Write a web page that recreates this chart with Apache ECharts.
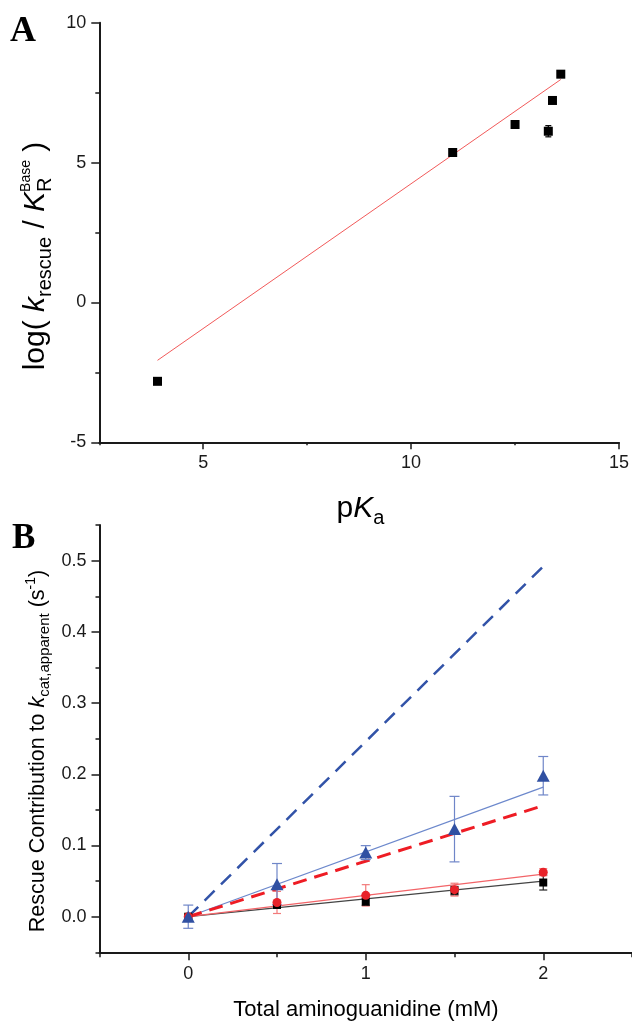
<!DOCTYPE html>
<html><head><meta charset="utf-8">
<script src="https://cdn.jsdelivr.net/npm/echarts@6/dist/echarts.min.js"></script>
<style>html,body{margin:0;padding:0;background:#fff}#c{width:632px;height:1022px}</style>
</head><body><div id="c"></div>
<script>
// ---------- Panel A data ----------
const pKa = [3.9, 11.0, 12.5, 13.3, 13.4, 13.6];
const logRatio = [-2.82, 5.36, 6.36, 6.12, 7.22, 8.16];
const logRatioErr = [0, 0, 0, 0.2, 0, 0];
const fitA_x = [3.9, 13.6];
const fitA_y = [-2.07, 7.97];
const ticksAx = [5, 10, 15];
const ticksAy = [-5, 0, 5, 10];

// ---------- Panel B data ----------
const conc = [0, 0.5, 1, 1.5, 2];
const blackVals = [0, 0.0165, 0.021, 0.0365, 0.048];
const blackErr = [0.003, 0.004, 0.005, 0.006, 0.0105];
const redVals = [0, 0.020, 0.030, 0.038, 0.0625];
const redErr = [0.004, 0.0155, 0.015, 0.009, 0.005];
const blueVals = [0, 0.0457, 0.0900, 0.123, 0.198];
const blueErr = [0.0163, 0.029, 0.0098, 0.046, 0.027];
const fitX = [0, 2];
const fitBlack = [0, 0.0499];
const fitRed = [0, 0.0597];
const fitBlue = [0, 0.182];
const dashBlue = [0, 0.492];
const dashRed = [0, 0.156];
const ticksBx = [0, 1, 2];
const ticksBy = [0, 0.1, 0.2, 0.3, 0.4, 0.5];

const FONT = "'Liberation Sans', Arial, sans-serif";
const AX = '#1a1a1a';

const ctx = document.createElement('canvas').getContext('2d');
function measure(t, size, italic) {
  ctx.font = (italic ? 'italic ' : '') + size + "px 'Liberation Sans', Arial, sans-serif";
  return ctx.measureText(t).width;
}
function mkText(t, x, baseline, size, italic, family, weight) {
  const f = (italic ? 'italic ' : '') + (weight ? weight + ' ' : '') + size + 'px ' + (family || FONT);
  return { type: 'text', x: x, y: baseline - 0.32 * size,
    style: { text: t, font: f, fill: '#000', textAlign: 'left', textVerticalAlign: 'middle', align: 'left', verticalAlign: 'middle' } };
}
// segments laid out along local x, main baseline at local y = 0
function titleGroup(segs, cx, cy, rot) {
  let x = 0, prevX = 0, prevW = 0; const items = [];
  segs.forEach(s => {
    const w = measure(s.t, s.size, s.italic);
    let sx;
    if (s.stack) { sx = prevX; const adv = Math.max(prevW, w); x = prevX + adv; prevW = adv; }
    else { sx = x; prevX = sx; prevW = w; x += w; }
    items.push({ sx, s });
  });
  const W = x;
  return { type: 'group', x: cx, y: cy, rotation: rot || 0,
    children: items.map(({ sx, s }) => mkText(s.t, sx - W / 2, s.dy || 0, s.size, s.italic)) };
}

function errSeries(xIdx, yIdx, xs, ys, es, color, cap, z) {
  const data = [];
  xs.forEach((x, i) => { if (es[i] > 0) data.push([x, ys[i] - es[i], ys[i] + es[i]]); });
  return {
    type: 'custom', xAxisIndex: xIdx, yAxisIndex: yIdx, z: z, silent: true, data: data,
    encode: { x: 0, y: [1, 2] },
    renderItem(params, api) {
      const lo = api.coord([api.value(0), api.value(1)]);
      const hi = api.coord([api.value(0), api.value(2)]);
      const s = { stroke: color, lineWidth: 1.2 };
      return { type: 'group', children: [
        { type: 'line', shape: { x1: lo[0], y1: lo[1], x2: hi[0], y2: hi[1] }, style: s },
        { type: 'line', shape: { x1: lo[0] - cap, y1: lo[1], x2: lo[0] + cap, y2: lo[1] }, style: s },
        { type: 'line', shape: { x1: hi[0] - cap, y1: hi[1], x2: hi[0] + cap, y2: hi[1] }, style: s }
      ] };
    }
  };
}
function pairs(xs, ys) { return xs.map((x, i) => [x, ys[i]]); }

const lineAx = { show: true, onZero: false, lineStyle: { color: AX, width: 2 } };
const lbl = { color: AX, fontSize: 18, fontFamily: FONT, margin: 12 };

const option = {
  animation: false,
  backgroundColor: '#fff',
  grid: [
    { left: 99.3, top: 22.7, width: 522.4, height: 419.6 },
    { left: 99.5, top: 525.1, width: 532.5, height: 427.2 }
  ],
  xAxis: [
    { gridIndex: 0, type: 'value', position: 'bottom', min: 2.5, max: 15, interval: 2.5, axisLine: lineAx,
      axisTick: { show: true, customValues: ticksAx, length: 7, lineStyle: { color: AX, width: 1.5 } },
      axisLabel: Object.assign({ customValues: ticksAx }, lbl), splitLine: { show: false } },
    { gridIndex: 0, type: 'value', position: 'bottom', min: 2.5, max: 15, interval: 2.5, axisLine: { show: false, onZero: false },
      axisTick: { show: true, length: 3, lineStyle: { color: AX, width: 1.5 } },
      axisLabel: { show: false }, splitLine: { show: false } },
    { gridIndex: 1, type: 'value', position: 'bottom', min: -0.5, max: 2.5, interval: 0.5, axisLine: lineAx,
      axisTick: { show: true, customValues: ticksBx, length: 8, lineStyle: { color: AX, width: 1.5 } },
      axisLabel: Object.assign({ customValues: ticksBx }, lbl, { margin: 13 }), splitLine: { show: false } },
    { gridIndex: 1, type: 'value', position: 'bottom', min: -0.5, max: 2.5, interval: 0.5, axisLine: { show: false, onZero: false },
      axisTick: { show: true, length: 5, lineStyle: { color: AX, width: 1.5 } },
      axisLabel: { show: false }, splitLine: { show: false } }
  ],
  yAxis: [
    { gridIndex: 0, type: 'value', position: 'left', min: -5, max: 10, interval: 5, axisLine: lineAx,
      axisTick: { show: true, length: 8, lineStyle: { color: AX, width: 1.5 } },
      minorTick: { show: true, splitNumber: 2, length: 4, lineStyle: { color: AX, width: 1.5 } },
      axisLabel: Object.assign({ customValues: ticksAy }, lbl, { margin: 13 }), splitLine: { show: false } },
    { gridIndex: 1, type: 'value', position: 'left', min: -0.05, max: 0.55, interval: 0.05, axisLine: lineAx,
      axisTick: { show: true, customValues: ticksBy, length: 8, lineStyle: { color: AX, width: 1.5 } },
      axisLabel: Object.assign({ customValues: ticksBy, formatter: v => v.toFixed(1) }, lbl, { margin: 13 }),
      splitLine: { show: false } },
    { gridIndex: 1, type: 'value', position: 'left', min: -0.05, max: 0.55, interval: 0.05, axisLine: { show: false, onZero: false },
      axisTick: { show: true, length: 4, lineStyle: { color: AX, width: 1.5 } },
      axisLabel: { show: false }, splitLine: { show: false } }
  ],
  series: [
    // Panel A
    { type: 'line', xAxisIndex: 0, yAxisIndex: 0, data: pairs(fitA_x, fitA_y), symbol: 'none', z: 2,
      lineStyle: { color: '#f25a5a', width: 1 } },
    errSeries(0, 0, pKa, logRatio, logRatioErr, '#000', 3, 3),
    { type: 'scatter', xAxisIndex: 0, yAxisIndex: 0, data: pairs(pKa, logRatio), symbol: 'rect', symbolSize: 9, z: 4,
      itemStyle: { color: '#000', opacity: 1 } },
    // Panel B fit lines
    { type: 'line', xAxisIndex: 2, yAxisIndex: 1, data: pairs(fitX, fitBlack), symbol: 'none', z: 2,
      lineStyle: { color: '#444', width: 1.2 } },
    { type: 'line', xAxisIndex: 2, yAxisIndex: 1, data: pairs(fitX, fitRed), symbol: 'none', z: 2,
      lineStyle: { color: '#f26468', width: 1.2 } },
    { type: 'line', xAxisIndex: 2, yAxisIndex: 1, data: pairs(fitX, fitBlue), symbol: 'none', z: 2,
      lineStyle: { color: '#6c88cc', width: 1.2 } },
    { type: 'line', xAxisIndex: 2, yAxisIndex: 1, data: pairs(fitX, dashBlue), symbol: 'none', z: 3,
      lineStyle: { color: '#3253a8', width: 2.5, type: [14, 9] } },
    { type: 'line', xAxisIndex: 2, yAxisIndex: 1, data: pairs(fitX, dashRed), symbol: 'none', z: 3,
      lineStyle: { color: '#ee1c24', width: 3, type: [14, 8] } },
    // error bars
    errSeries(2, 1, conc, blackVals, blackErr, '#222', 4, 4),
    errSeries(2, 1, conc, redVals, redErr, '#f27a7a', 4, 4),
    errSeries(2, 1, conc, blueVals, blueErr, '#6f86c8', 5, 4),
    // markers
    { type: 'scatter', xAxisIndex: 2, yAxisIndex: 1, data: pairs(conc, blackVals), symbol: 'rect', symbolSize: 8, z: 5,
      itemStyle: { color: '#000', opacity: 1 } },
    { type: 'scatter', xAxisIndex: 2, yAxisIndex: 1, data: pairs(conc, redVals), symbol: 'circle', symbolSize: 9, z: 6,
      itemStyle: { color: '#e8232a', opacity: 1 } },
    { type: 'scatter', xAxisIndex: 2, yAxisIndex: 1, data: pairs(conc, blueVals), symbol: 'triangle', symbolSize: [13, 12], z: 7,
      itemStyle: { color: '#3050a2', opacity: 1 } }
  ],
  graphic: [
    mkText('A', 10, 43, 36, false, "'Liberation Serif', 'Times New Roman', serif", 'bold'),
    mkText('B', 12, 550, 35, false, "'Liberation Serif', 'Times New Roman', serif", 'bold'),
    titleGroup([
      { t: 'log( ', size: 30 },
      { t: 'k', size: 30, italic: true },
      { t: 'rescue', size: 20, dy: 7 },
      { t: ' / ', size: 30 },
      { t: 'K', size: 30, italic: true },
      { t: 'R', size: 20, dy: 7 },
      { t: 'Base', size: 14, dy: -14, stack: true },
      { t: ' )', size: 30 }
    ], 45, 256, Math.PI / 2),
    titleGroup([
      { t: 'p', size: 30 },
      { t: 'K', size: 30, italic: true },
      { t: 'a', size: 20, dy: 7 }
    ], 360.5, 518, 0),
    titleGroup([
      { t: 'Rescue Contribution to ', size: 21.5 },
      { t: 'k', size: 21.5, italic: true },
      { t: 'cat,apparent', size: 15, dy: 5 },
      { t: ' (s', size: 21.5 },
      { t: '-1', size: 14, dy: -9 },
      { t: ')', size: 21.5 }
    ], 45, 751, Math.PI / 2),
    titleGroup([
      { t: 'Total aminoguanidine (mM)', size: 22 }
    ], 366, 1017, 0)
  ]
};
echarts.init(document.getElementById('c'), null, { renderer: 'canvas' }).setOption(option);
</script>
</body></html>
